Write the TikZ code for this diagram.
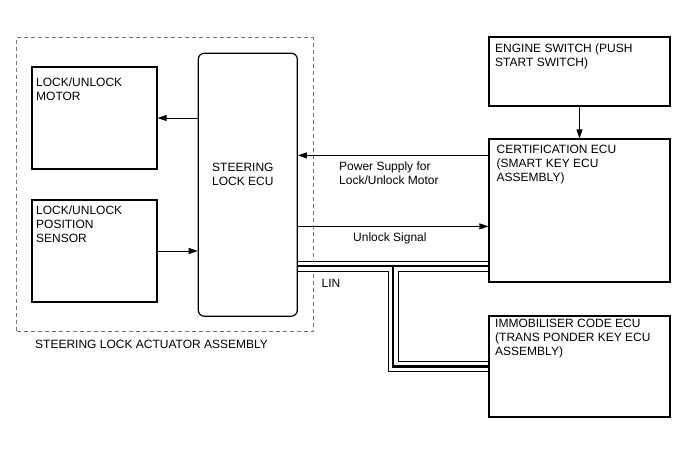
\documentclass[tikz,border=0pt]{standalone}
\usepackage{fontspec}
\setmainfont{Liberation Sans}
\usetikzlibrary{arrows.meta}

\begin{document}
\begin{tikzpicture}[x=1pt, y=-1pt,
    box/.style={draw=black, fill=none, line width=1.2pt, inner sep=0pt},
    txt/.style={anchor=north west, inner sep=0pt, align=left,
      font=\fontsize{12}{14}\selectfont},
    arr/.style={-{Triangle[length=9pt,width=6pt]}, line width=0.8pt},
    linbus/.style={line width=2.6pt, preaction={draw, line width=11pt},
      preaction={draw, white, line width=9pt}}]%
  \useasboundingbox (0,0) rectangle (688,463);

  \node[draw=black!55, dash pattern=on 4pt off 3pt, line width=0.8pt,
    minimum width=296.5pt, minimum height=293.7pt, inner sep=0pt] (assy) at (164.75,184.2) {};

  \node[box, minimum width=125pt, minimum height=102pt] (motor) at (94.5,118) {};

  \node[box, minimum width=125pt, minimum height=102pt] (sensor) at (94.5,251) {};

  \node[box, rounded corners=6pt,
    minimum width=99pt, minimum height=263pt] (ecu) at (247.8,184.7) {};

  \node[box, minimum width=181pt, minimum height=69pt] (engine) at (579.5,71.5) {};

  \node[box, minimum width=181pt, minimum height=143pt] (cert) at (579.5,210.5) {};

  \node[box, minimum width=181pt, minimum height=101pt] (immob) at (579.5,366.5) {};

  \node[txt] (motortxt) at (36,77.5) {LOCK/UNLOCK\\MOTOR};
  \node[txt] (sensortxt) at (36,205.5) {LOCK/UNLOCK\\POSITION\\SENSOR};
  \node[txt] (ecutxt) at (212,163) {STEERING\\LOCK ECU};
  \node[txt] (enginetxt) at (495,43.5) {ENGINE SWITCH (PUSH\\START SWITCH)};
  \node[txt] (certtxt) at (496.5,145) {CERTIFICATION ECU\\(SMART KEY ECU\\ASSEMBLY)};
  \node[txt] (immobtxt) at (495,319) {IMMOBILISER CODE ECU\\(TRANS PONDER KEY ECU\\ASSEMBLY)};
  \node[txt] (assytxt) at (35,340) {STEERING LOCK ACTUATOR ASSEMBLY};
  \node[txt] (pwrtxt) at (339,162) {Power Supply for\\Lock/Unlock Motor};
  \node[txt] (unltxt) at (353,232.5) {Unlock Signal};
  \node[txt] (lintxt) at (321.5,279.5) {LIN};

  \coordinate (pwr) at ([yshift=-17pt]cert.north west);
  \coordinate (unl) at ([yshift=-88pt]cert.north west);
  \coordinate (lin1) at (393,266);
  \coordinate (lin2) at (393,366.5);

      \draw [arr] (ecu.west |- motor.east) -- (motor.east);
      \draw [arr] (sensor.east) -- (sensor.east -| ecu.west);
      \draw [arr] (engine) -- (cert);
      \draw [arr] (pwr) -- (pwr -| ecu.east);
      \draw [arr] (unl -| ecu.east) -- (unl);
      \draw [linbus] (lin1 -| ecu.east) -- (lin1 -| cert.west)
        (lin1) -- (lin2) -- (lin2 -| immob.west);
    \end{tikzpicture}
\end{document}
